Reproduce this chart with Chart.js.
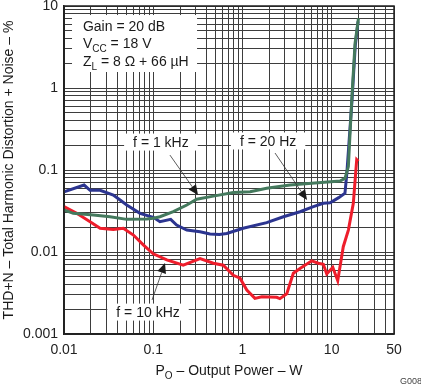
<!DOCTYPE html>
<html><head><meta charset="utf-8">
<script src="https://cdn.jsdelivr.net/npm/chart.js@4"></script>
<style>html,body{margin:0;padding:0;background:#fff}canvas{display:block}</style>
</head><body>
<canvas id="c" width="421" height="385"></canvas>
<script>
const FONT = '"Liberation Sans", Arial, sans-serif';

// Tick labels shown on the axes
const xTickLabels = [0.01, 0.1, 1, 10, 50];
const yTickLabels = [0.001, 0.01, 0.1, 1, 10];

// f = 1 kHz (green)
const f1kHzPower = [0.01, 0.0127, 0.0213, 0.0328, 0.0505, 0.0845, 0.1, 0.119, 0.168, 0.238, 0.307, 0.472, 0.79, 1.22, 1.87, 3.42, 6.0, 12.4, 14.1, 15.4, 16.8, 18.3, 20];
const f1kHzThd   = [0.0325, 0.0296, 0.0283, 0.0269, 0.025, 0.0253, 0.0258, 0.0269, 0.031, 0.0374, 0.044, 0.048, 0.053, 0.0543, 0.06, 0.0656, 0.069, 0.0735, 0.079, 0.11, 0.714, 3.5, 7.08];

// f = 20 Hz (blue)
const f20HzPower = [0.01, 0.0168, 0.0196, 0.0254, 0.0357, 0.0425, 0.0505, 0.0711, 0.1, 0.119, 0.157, 0.183, 0.238, 0.335, 0.433, 0.55, 0.667, 1.02, 1.87, 2.88, 4.42, 6.24, 8.07, 9.6, 12.0, 14.1, 14.8, 16.9, 18.4, 19.8];
const f20HzThd   = [0.054, 0.0656, 0.0566, 0.0566, 0.0496, 0.043, 0.0374, 0.0296, 0.0265, 0.0234, 0.025, 0.0213, 0.0185, 0.0177, 0.0166, 0.0164, 0.0168, 0.0195, 0.0228, 0.0269, 0.031, 0.0357, 0.0393, 0.0398, 0.046, 0.052, 0.091, 0.7, 3.3, 6.5];

// f = 10 kHz (red)
const f10kHzPower = [0.01, 0.0139, 0.0196, 0.0254, 0.0357, 0.0462, 0.06, 0.0774, 0.1, 0.142, 0.217, 0.335, 0.472, 0.61, 0.79, 0.94, 1.12, 1.38, 1.65, 2.42, 2.63, 3.14, 3.72, 4.42, 5.98, 7.08, 8.07, 8.81, 10.3, 11.7, 13.5, 15.4, 17.5, 19.1, 19.9];
const f10kHzThd   = [0.0357, 0.0296, 0.0234, 0.0195, 0.0188, 0.0195, 0.0161, 0.0122, 0.0095, 0.008, 0.0069, 0.0083, 0.0073, 0.0069, 0.0052, 0.0048, 0.00344, 0.00272, 0.00285, 0.0028, 0.0027, 0.0031, 0.0055, 0.0063, 0.0078, 0.0073, 0.0071, 0.0054, 0.0065, 0.00447, 0.0116, 0.0185, 0.0393, 0.134, 0.128];

const toPoints = (xs, ys) => xs.map((x, i) => ({x, y: ys[i]}));

function logTicks(min, max) {
  const out = [];
  for (let e = Math.floor(Math.log10(min)); e <= Math.ceil(Math.log10(max)); e++) {
    for (let m = 1; m <= 9; m++) {
      const v = +(m * Math.pow(10, e)).toPrecision(6);
      if (v >= min - 1e-12 && v <= max + 1e-9) out.push(v);
    }
  }
  return out;
}

const annotations = [
  {text: 'f = 1 kHz',  x: 0.122,  y: 0.219,   tail: [0.154, 0.152],  tip: [0.318, 0.0496]},
  {text: 'f = 20 Hz',  x: 1.94,   y: 0.226,   tail: [2.32, 0.161],   tip: [5.3, 0.043]},
  {text: 'f = 10 kHz', x: 0.0875, y: 0.00185, tail: [0.097, 0.0026], tip: [0.1356, 0.00735]}
];
const infoBox = {x0: 0.0123, x1: 0.31, y0: 7.76, y1: 1.567, textX: 0.0163, lines: [5.7, 3.54, 2.13]};

function drawSub(ctx, parts, x, y, align) {
  // parts: [text, isSub]
  const big = '14px ' + FONT, small = '10px ' + FONT;
  let w = 0;
  parts.forEach(p => { ctx.font = p[1] ? small : big; w += ctx.measureText(p[0]).width; });
  let cx = align === 'center' ? x - w / 2 : x;
  ctx.textAlign = 'left';
  ctx.textBaseline = 'alphabetic';
  parts.forEach(p => {
    ctx.font = p[1] ? small : big;
    ctx.fillText(p[0], cx, p[1] ? y + 4 : y);
    cx += ctx.measureText(p[0]).width;
  });
}

const decor = {
  id: 'decor',
  beforeDatasetsDraw(chart) {
    const {ctx, scales: {x, y}} = chart;
    ctx.save();
    ctx.fillStyle = '#ffffff';
    // info box background
    const bx0 = x.getPixelForValue(infoBox.x0), bx1 = x.getPixelForValue(infoBox.x1);
    const by0 = y.getPixelForValue(infoBox.y0), by1 = y.getPixelForValue(infoBox.y1);
    ctx.fillRect(bx0, by0, bx1 - bx0, by1 - by0);
    ctx.font = '14px ' + FONT;
    annotations.forEach(a => {
      const w = ctx.measureText(a.text).width;
      const cx = x.getPixelForValue(a.x), cy = y.getPixelForValue(a.y);
      ctx.fillRect(cx - w / 2 - 9, cy - 8.5, w + 18, 17);
    });
    ctx.restore();
  },
  afterDatasetsDraw(chart) {
    const {ctx, chartArea: ca, scales: {x, y}} = chart;
    ctx.save();
    // frame
    ctx.strokeStyle = '#222';
    ctx.lineWidth = 1.5;
    ctx.strokeRect(ca.left, ca.top, ca.right - ca.left, ca.bottom - ca.top);
    ctx.fillStyle = '#1a1a1a';
    // info text
    const tx = x.getPixelForValue(infoBox.textX);
    drawSub(ctx, [['Gain = 20 dB', false]], tx, y.getPixelForValue(infoBox.lines[0]) + 5);
    drawSub(ctx, [['V', false], ['CC', true], [' = 18 V', false]], tx, y.getPixelForValue(infoBox.lines[1]) + 5);
    drawSub(ctx, [['Z', false], ['L', true], [' = 8 \u03A9 + 66 \u00B5H', false]], tx, y.getPixelForValue(infoBox.lines[2]) + 5);
    // annotations
    ctx.font = '14px ' + FONT;
    ctx.textAlign = 'center';
    ctx.textBaseline = 'middle';
    annotations.forEach(a => {
      const cx = x.getPixelForValue(a.x), cy = y.getPixelForValue(a.y);
      ctx.fillText(a.text, cx, cy + 1);
      const x0 = x.getPixelForValue(a.tail[0]), y0 = y.getPixelForValue(a.tail[1]);
      const x1 = x.getPixelForValue(a.tip[0]), y1 = y.getPixelForValue(a.tip[1]);
      const ang = Math.atan2(y1 - y0, x1 - x0);
      const L = 10, H = 4.5;
      const bxp = x1 - L * Math.cos(ang), byp = y1 - L * Math.sin(ang);
      ctx.strokeStyle = '#333';
      ctx.lineWidth = 0.8;
      ctx.beginPath(); ctx.moveTo(x0, y0); ctx.lineTo(bxp, byp); ctx.stroke();
      ctx.beginPath();
      ctx.moveTo(x1, y1);
      ctx.lineTo(bxp + H * Math.sin(ang), byp - H * Math.cos(ang));
      ctx.lineTo(bxp - H * Math.sin(ang), byp + H * Math.cos(ang));
      ctx.closePath();
      ctx.fillStyle = '#1a1a1a';
      ctx.fill();
    });
    ctx.restore();
  },
  afterDraw(chart) {
    const {ctx, chartArea: ca} = chart;
    ctx.save();
    ctx.fillStyle = '#1a1a1a';
    // y title
    ctx.translate(9, (ca.top + ca.bottom) / 2);
    ctx.rotate(-Math.PI / 2);
    ctx.font = '14px ' + FONT;
    ctx.textAlign = 'center';
    ctx.textBaseline = 'middle';
    ctx.fillText('THD+N \u2013 Total Harmonic Distortion + Noise \u2013 %', 0, 0);
    ctx.restore();
    ctx.save();
    ctx.fillStyle = '#1a1a1a';
    drawSub(ctx, [['P', false], ['O', true], [' \u2013 Output Power \u2013 W', false]], (ca.left + ca.right) / 2, 375, 'center');
    ctx.font = '9px ' + FONT;
    ctx.fillStyle = '#444';
    ctx.textAlign = 'left';
    ctx.textBaseline = 'alphabetic';
    ctx.fillText('G008', 400, 384);
    ctx.restore();
  }
};

new Chart(document.getElementById('c'), {
  type: 'line',
  data: {
    datasets: [
      {label: 'f = 1 kHz', data: toPoints(f1kHzPower, f1kHzThd), borderColor: '#44795d', borderWidth: 3, pointRadius: 0, tension: 0, order: 0},
      {label: 'f = 10 kHz', data: toPoints(f10kHzPower, f10kHzThd), borderColor: '#ee1d2b', borderWidth: 3, pointRadius: 0, tension: 0, order: 1},
      {label: 'f = 20 Hz', data: toPoints(f20HzPower, f20HzThd), borderColor: '#2c3590', borderWidth: 3, pointRadius: 0, tension: 0, order: 2}
    ]
  },
  options: {
    responsive: false,
    animation: false,
    devicePixelRatio: 1,
    layout: {padding: {left: 0, right: 27, top: 6, bottom: 0}},
    plugins: {legend: {display: false}, tooltip: {enabled: false}},
    scales: {
      x: {
        type: 'logarithmic', min: 0.01, max: 50,
        afterBuildTicks: s => { s.ticks = logTicks(0.01, 50).map(v => ({value: v})); },
        afterFit: s => { s.height = 51; s.paddingLeft = 0; s.paddingRight = 0; },
        grid: {color: '#3d3d3d', lineWidth: 1, drawTicks: false},
        border: {display: true, color: '#222', width: 1.5},
        ticks: {
          autoSkip: false, maxRotation: 0, padding: 8, color: '#222',
          font: {family: FONT, size: 14},
          callback: v => xTickLabels.some(t => Math.abs(t - v) / t < 1e-6) ? String(v) : ''
        }
      },
      y: {
        type: 'logarithmic', min: 0.001, max: 10,
        afterBuildTicks: s => { s.ticks = logTicks(0.001, 10).map(v => ({value: v})); },
        afterFit: s => { s.width = 64; s.paddingTop = 0; s.paddingBottom = 0; },
        grid: {color: '#3d3d3d', lineWidth: 1, drawTicks: false},
        border: {display: true, color: '#222', width: 1.5},
        ticks: {
          autoSkip: false, padding: 6, color: '#222',
          font: {family: FONT, size: 14},
          callback: v => yTickLabels.some(t => Math.abs(t - v) / t < 1e-6) ? String(v) : ''
        }
      }
    }
  },
  plugins: [decor]
});
</script>
</body></html>
